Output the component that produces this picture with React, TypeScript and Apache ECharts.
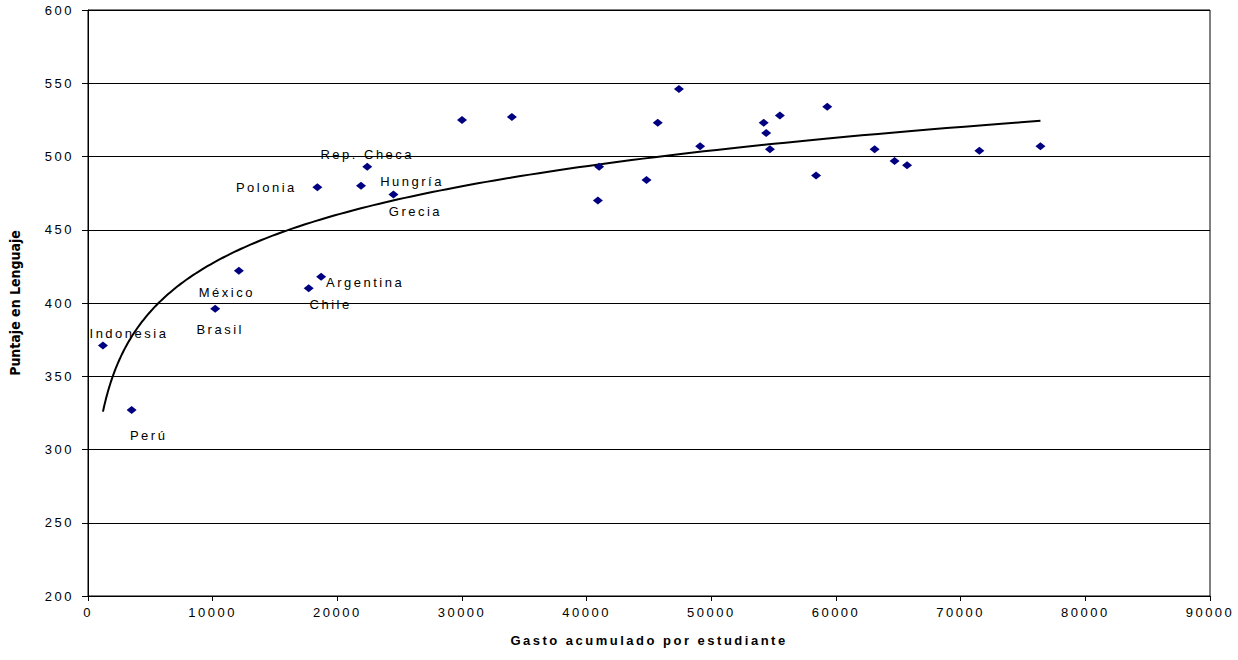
import React, { useEffect, useRef } from "react";
import * as echarts from "echarts";

// Country labels ('' = unlabeled point)
const countries = [
  "Indonesia", "Perú", "Brasil", "México", "Chile", "Argentina",
  "Polonia", "Hungría", "Rep. Checa", "Grecia",
  "", "", "", "", "", "", "", "", "", "", "", "", "", "", "", "", "", "", "",
];
// Gasto acumulado por estudiante
const gasto = [
  1200, 3500, 10200, 12100, 17700, 18700,
  18400, 21900, 22400, 24500,
  30000, 34000, 47400, 45700, 49100, 41000, 40900, 44800, 54200, 54400,
  54700, 55500, 59300, 58400, 63100, 64700, 65700, 71500, 76400,
];
// Puntaje en Lenguaje
const puntaje = [
  371, 327, 396, 422, 410, 418,
  479, 480, 493, 474,
  525, 527, 546, 523, 507, 493, 470, 484, 523, 516,
  505, 528, 534, 487, 505, 497, 494, 504, 507,
];

const labelOffsets: Record<string, [number, number]> = {
  Indonesia: [26, -12],
  "Perú": [17, 26],
  Brasil: [5, 21],
  "México": [-12, 22],
  Chile: [22, 16],
  Argentina: [44, 6],
  Polonia: [-51, 0],
  "Rep. Checa": [0, -12],
  "Hungría": [51, -4],
  Grecia: [22, 17],
};

// Logarithmic trendline (least squares of y on ln x), as in a spreadsheet trendline
function logFit(xs: number[], ys: number[]) {
  const n = xs.length;
  let sx = 0, sy = 0, sxx = 0, sxy = 0;
  for (let i = 0; i < n; i++) {
    const lx = Math.log(xs[i]);
    sx += lx; sy += ys[i]; sxx += lx * lx; sxy += lx * ys[i];
  }
  const a = (n * sxy - sx * sy) / (n * sxx - sx * sx);
  const b = (sy - a * sx) / n;
  return { a, b };
}

const FONT = "'Liberation Sans', Arial, sans-serif";

export default function App() {
  const ref = useRef<HTMLDivElement>(null);
  useEffect(() => {
    if (!ref.current) return;
    const chart = echarts.init(ref.current, undefined, { renderer: "svg" });
    const { a, b } = logFit(gasto, puntaje);
    const xmin = Math.min(...gasto);
    const xmax = Math.max(...gasto);
    const trend: [number, number][] = [];
    const steps = 200;
    for (let i = 0; i <= steps; i++) {
      const x = xmin * Math.pow(xmax / xmin, i / steps);
      trend.push([x, a * Math.log(x) + b]);
    }
    const scatterData = gasto.map((g, i) => {
      const name = countries[i];
      const item: any = { value: [g, puntaje[i]], name };
      if (name) {
        item.label = {
          show: true,
          formatter: name,
          position: "inside",
          offset: labelOffsets[name] || [0, 0],
          color: "#000",
          fontSize: 13,
          fontFamily: FONT,
        };
      }
      return item;
    });
    chart.setOption({
      animation: false,
      backgroundColor: "#fff",
      grid: {
        left: 86,
        right: 28,
        top: 10,
        bottom: 64,
        show: true,
        borderColor: "#000",
        borderWidth: 1,
        backgroundColor: "transparent",
      },
      xAxis: {
        type: "value",
        min: 0,
        max: 90000,
        interval: 10000,
        name: "Gasto acumulado por estudiante",
        nameLocation: "middle",
        nameGap: 38,
        nameTextStyle: { fontFamily: FONT, fontWeight: "bold", fontSize: 13, color: "#000" },
        axisLine: { show: true, lineStyle: { color: "#000", width: 1 } },
        axisTick: { show: true, length: 5, lineStyle: { color: "#000" } },
        axisLabel: {
          color: "#000",
          fontSize: 13,
          fontFamily: FONT,
          margin: 10,
          formatter: (v: number) => String(v),
        },
        splitLine: { show: false },
      },
      yAxis: {
        type: "value",
        min: 200,
        max: 600,
        interval: 50,
        name: "Puntaje en Lenguaje",
        nameLocation: "middle",
        nameGap: 66,
        nameTextStyle: {
          fontFamily: "'DejaVu Sans Condensed', 'Liberation Sans Narrow', Arial, sans-serif",
          fontWeight: "bold",
          fontSize: 14,
          color: "#000",
        },
        axisLine: { show: true, lineStyle: { color: "#000", width: 1 } },
        axisTick: { show: true, length: 6, lineStyle: { color: "#000" } },
        axisLabel: { color: "#000", fontSize: 13, fontFamily: FONT, margin: 14 },
        splitLine: { show: true, lineStyle: { color: "#000", width: 1 } },
      },
      series: [
        {
          type: "line",
          data: trend,
          showSymbol: false,
          symbol: "none",
          lineStyle: { color: "#000", width: 2 },
          z: 2,
          silent: true,
        },
        {
          type: "scatter",
          data: scatterData,
          symbol: "diamond",
          symbolSize: [10, 8],
          itemStyle: { color: "#000080", opacity: 1 },
          z: 3,
        },
      ],
    });
    return () => chart.dispose();
  }, []);
  return (
    <>
      <style>{`#root svg text[style*="Condensed"]{letter-spacing:0 !important;}`}</style>
      <div
        ref={ref}
        style={{
          position: "absolute",
          left: 0,
          top: 0,
          width: 1238,
          height: 660,
          letterSpacing: "2.5px",
          background: "#fff",
        }}
      />
    </>
  );
}
